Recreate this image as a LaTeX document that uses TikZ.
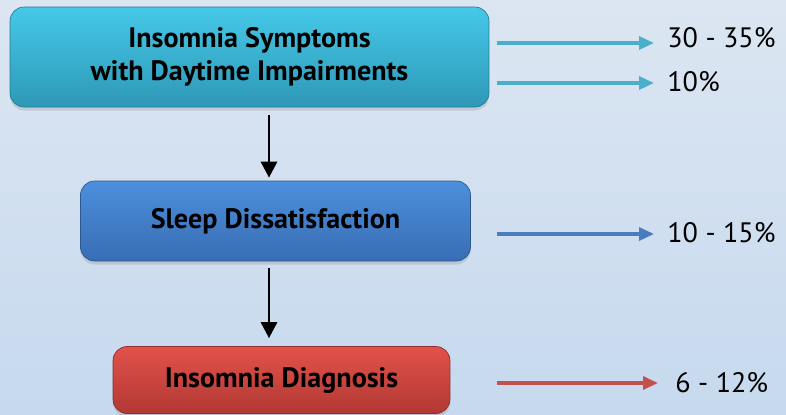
\documentclass[tikz,border=0pt]{standalone}
\usepackage{fontspec}
\setmainfont{PT Sans}
\usepackage{xcolor}
\usetikzlibrary{arrows.meta,positioning,shadows}

\definecolor{bgtop}{HTML}{DCE6F2}
\definecolor{bgbot}{HTML}{C6D9EE}
\definecolor{cyantop}{HTML}{46C8E8}
\definecolor{cyanbot}{HTML}{2E98B6}
\definecolor{bluetop}{HTML}{4C8FDD}
\definecolor{bluebot}{HTML}{386DB3}
\definecolor{redtop}{HTML}{E2524B}
\definecolor{redbot}{HTML}{B23833}
\definecolor{cyanline}{HTML}{4BAFCB}
\definecolor{blueline}{HTML}{4A7DC0}
\definecolor{redline}{HTML}{C3504C}

\begin{document}
\begin{tikzpicture}[
  x=0.02cm,y=-0.02cm,
  box/.style={rounded corners=8pt,align=center,font=\fontsize{16}{18.5}\selectfont\bfseries,
              drop shadow={shadow xshift=0pt,shadow yshift=-2pt,opacity=0.25}},
  pct/.style={anchor=west,inner sep=0pt,font=\fontsize{16}{18}\selectfont},
  down/.style={-{Triangle[length=3.2mm,width=3.2mm]},line width=1.6pt},
  side/.style={-{Triangle[length=3mm,width=2.6mm]},line width=1.8pt,shorten >=0.26cm},
]
% background
\shade[top color=bgtop,bottom color=bgbot] (0,0) rectangle (786,414);
\useasboundingbox (0,0) rectangle (786,414);

% the three stages
\node[box,top color=cyantop,bottom color=cyanbot,draw=cyanbot!80!black,
      minimum width=9.58cm,minimum height=2cm] (symp) at (249.5,57)
      {Insomnia Symptoms\\with Daytime Impairments};
\node[box,top color=bluetop,bottom color=bluebot,draw=bluebot!80!black,
      minimum width=7.8cm,minimum height=1.6cm] (dissat) at (275.5,221)
      {Sleep Dissatisfaction};
\node[box,top color=redtop,bottom color=redbot,draw=redbot!80!black,
      minimum width=6.74cm,minimum height=1.34cm] (diag) at (281.5,380)
      {Insomnia Diagnosis};

\coordinate (col) at (269,0);
\draw[down,shorten <=0.16cm,shorten >=0.06cm] (symp.south -| col) -- (dissat.north -| col);
\draw[down,shorten <=0.14cm,shorten >=0.16cm] (dissat.south -| col) -- (diag.north -| col);

% percentages
\node[pct] (p1) at (667,38) {30 - 35\%};
\node[pct] (p2) at (667,82) {10\%};
\node[pct] (p3) at (667,233) {10 - 15\%};
\node[pct] (p4) at (675,383) {6 - 12\%};

\coordinate (c1) at (497,43);
\coordinate (c2) at (497,83);
\coordinate (c3) at (497,234);
\coordinate (c4) at (497,383);
\draw[side,cyanline] (c1) -- (c1 -| p1.west);
\draw[side,cyanline] (c2) -- (c2 -| p2.west);
\draw[side,blueline] (c3) -- (c3 -| p3.west);
\draw[side,redline,shorten >=0.34cm] (c4) -- (c4 -| p4.west);
\end{tikzpicture}
\end{document}
